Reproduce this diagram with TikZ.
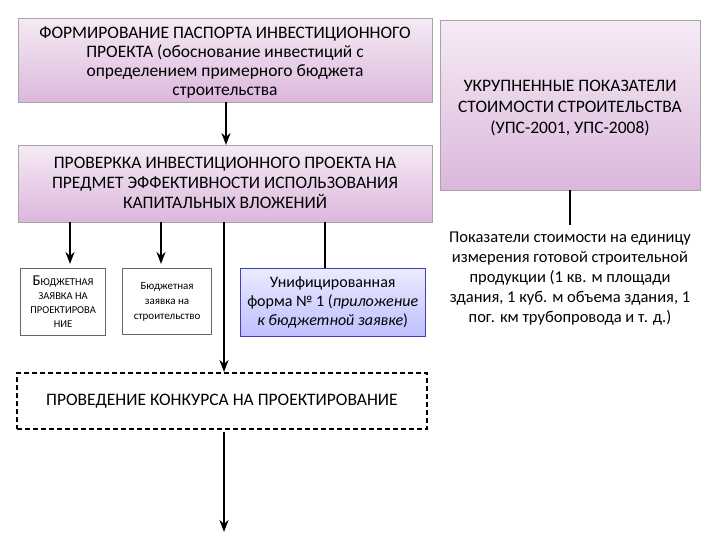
\documentclass[tikz,border=0pt]{standalone}
\usepackage{fontspec}
\setmainfont{Carlito}
\usetikzlibrary{arrows.meta}
\begin{document}
\begin{tikzpicture}[x=1pt,y=-1pt,
  lav/.style={draw=gray!70,top color=violet!8,bottom color=violet!28,inner sep=2pt},
  small/.style={draw=gray!80!black,line width=1.2pt,fill=white,align=center,inner sep=1pt},
  arr/.style={line width=2pt,-{Stealth[length=12pt,width=9pt]}},
  ln/.style={line width=2pt}]
\useasboundingbox (0,0) rectangle (720,540);
\node[lav,minimum width=414pt,minimum height=84pt,anchor=north west] (passport) at (18,18) {};
\node[align=center,font=\fontsize{17.5}{19}\selectfont,anchor=north] (ptext) at (225,23) {ФОРМИРОВАНИЕ ПАСПОРТА ИНВЕСТИЦИОННОГО\\ПРОЕКТА (обоснование инвестиций с\\определением примерного бюджета\\строительства};
\node[lav,minimum width=414pt,minimum height=77pt,anchor=north west] (check) at (18,145) {};
\node[align=center,font=\fontsize{17.5}{20}\selectfont] (ctext) at (225,183) {ПРОВЕРККА ИНВЕСТИЦИОННОГО ПРОЕКТА НА\\ПРЕДМЕТ ЭФФЕКТИВНОСТИ ИСПОЛЬЗОВАНИЯ\\КАПИТАЛЬНЫХ ВЛОЖЕНИЙ};
\node[lav,minimum width=260pt,minimum height=170pt,anchor=north west] (ups) at (440,20) {};
\node[align=center,font=\fontsize{17.5}{21}\selectfont] (utext) at (570,108) {УКРУПНЕННЫЕ ПОКАЗАТЕЛИ\\СТОИМОСТИ СТРОИТЕЛЬСТВА\\(УПС-2001, УПС-2008)};
\node[small,minimum width=85pt,minimum height=67pt,anchor=north west] (b1) at (20,268) {};
\node[align=center,font=\fontsize{10.5}{14}\selectfont] at (b1.center) {{\fontsize{15}{14}\selectfont Б}ЮДЖЕТНАЯ\\ЗАЯВКА НА\\ПРОЕКТИРОВА\\НИЕ};
\node[small,minimum width=89pt,minimum height=66pt,anchor=north west] (b2) at (122,268) {};
\node[align=center,font=\fontsize{11}{15}\selectfont] at (b2.center) {Бюджетная\\заявка на\\строительство};
\node[draw=blue!50!gray,top color=blue!8,bottom color=blue!25,minimum width=185pt,minimum height=68pt,anchor=north west] (b3) at (240,268) {};
\node[align=center,font=\fontsize{16}{19}\selectfont] at (b3.center) {Унифицированная\\форма № 1 (\textit{приложение}\\\textit{к бюджетной заявке})};
\node[draw,dash pattern=on 5pt off 3pt,line width=1.8pt,minimum width=410pt,minimum height=56pt,anchor=north west,font=\fontsize{17.5}{20}\selectfont] (contest) at (16,372) {ПРОВЕДЕНИЕ КОНКУРСА НА ПРОЕКТИРОВАНИЕ};
\node[align=center,font=\fontsize{16.5}{20}\selectfont] (pok) at (570,279) {Показатели стоимости на единицу\\измерения готовой строительной\\продукции (1 кв. м площади\\здания, 1 куб. м объема здания, 1\\пог. км трубопровода и т. д.)};
\coordinate (end) at (224,532);
\draw[arr] (226,102) -- (226,145);
\draw[arr] (70,222) -- (70,264);
\draw[arr] (161,222) -- (161,264);
\draw[ln] (325,222) -- (325,268);
\draw[arr] (224,222) -- (224,372);
\draw[arr] (224,432) -- (end);
\draw[ln] (570,190) -- (570,225);
\end{tikzpicture}
\end{document}
